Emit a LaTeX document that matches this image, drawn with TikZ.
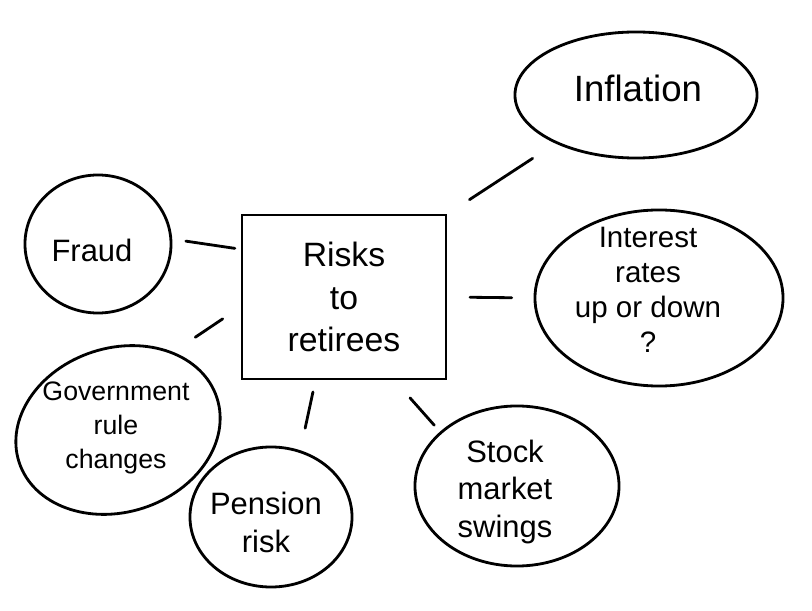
\documentclass[tikz,border=0pt]{standalone}
\usepackage{fontspec}
\setmainfont{Liberation Sans}
\usetikzlibrary{shapes.geometric}

\tikzset{
	bubble/.style={draw, ellipse, line width=2pt, inner sep=0pt, outer sep=0pt},
	idea/.style={align=center, font=\fontsize{22}{27}\selectfont},
	link/.style={line width=2pt, line cap=round},
}

\begin{document}
\begin{tikzpicture}
	[x=0.025cm, y=-0.025cm]
	\useasboundingbox (0,0) rectangle (812,611);
	% centre
	\node[draw, line width=2pt, outer sep=0pt, minimum width=5.1cm, minimum height=4.1cm,
		idea, font=\fontsize{24}{30}\selectfont] (risks) at (344,297) {Risks\\to\\retirees};
	% the bubbles
	\node[bubble, minimum width=6.05cm, minimum height=3.15cm] (infl) at (636,95) {};
	\node[idea, font=\fontsize{26}{30}\selectfont] (infl text) at (638,88) {Inflation};
	\node[bubble, minimum width=6.2cm, minimum height=4.4cm] (interest) at (659,298) {};
	\node[idea, font=\fontsize{21}{25}\selectfont] (interest text) at (648,290) {Interest\\rates\\up or down\\?};
	\node[bubble, minimum width=3.65cm, minimum height=3.45cm] (fraud) at (98,244) {};
	\node[idea] (fraud text) at (92,250) {Fraud};
	\node[bubble, rotate=18, minimum width=5.2cm, minimum height=4.1cm] (gov) at (118,430) {};
	\node[idea, font=\fontsize{19}{24}\selectfont] (gov text) at (116,428) {Government\\rule\\changes};
	\node[bubble, minimum width=4.05cm, minimum height=3.5cm] (pension) at (271,517) {};
	\node[idea] (pension text) at (266,522) {Pension\\risk};
	\node[bubble, minimum width=5.1cm, minimum height=4cm] (stock) at (517,486) {};
	\node[idea] (stock text) at (505,492) {Stock\\market\\swings};
	% links, with gaps at both ends
	\draw[link, shorten <=0.7cm, shorten >=0.72cm] (risks.north east) -- (infl.211);
	\draw[link, shorten <=0.18cm, shorten >=0.38cm] (risks.155) -- (fraud.4);
	\draw[link, shorten <=0.6cm, shorten >=0.58cm] (risks.east) -- (interest.west);
	\draw[link, shorten <=0.58cm, shorten >=0.7cm] (risks.185) -- (gov.37);
	\draw[link, shorten <=0.33cm, shorten >=0.6cm] (risks.251) -- (pension.66);
	\draw[link, shorten <=0.63cm, shorten >=0.25cm] (risks.301) -- (stock.145);
\end{tikzpicture}
\end{document}
